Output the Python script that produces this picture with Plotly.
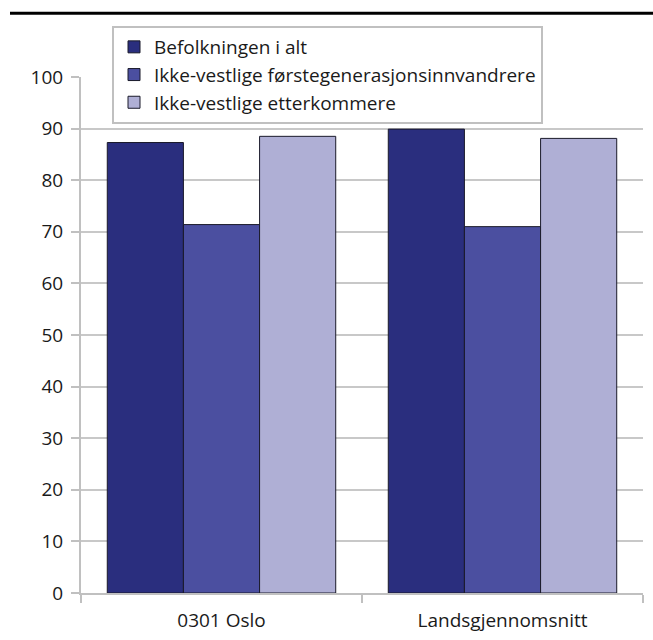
import plotly.graph_objects as go

categories = ["0301 Oslo", "Landsgjennomsnitt"]
series_names = [
    "Befolkningen i alt",
    "Ikke-vestlige førstegenerasjonsinnvandrere",
    "Ikke-vestlige etterkommere",
]
befolkningen = [87.3, 89.9]
forstegen = [71.4, 71.0]
etterkommere = [88.5, 88.1]
colors = ["#2a2e7e", "#4b4fa0", "#afafd5"]
y_ticks = [0, 10, 20, 30, 40, 50, 60, 70, 80, 90, 100]

FONT = "Open Sans"
W, H = 653, 640
ml, mr, mt, mb = 81, 10, 77, 47

fig = go.Figure()
for name, vals, col in zip(series_names, [befolkningen, forstegen, etterkommere], colors):
    fig.add_trace(go.Bar(
        x=categories, y=vals, name=name,
        marker=dict(color=col, line=dict(color="#1a1a2a", width=1)),
    ))

pw = W - ml - mr
ph = H - mt - mb

fig.update_layout(
    width=W, height=H,
    margin=dict(l=ml, r=mr, t=mt, b=mb, autoexpand=False),
    paper_bgcolor="white", plot_bgcolor="white",
    barmode="group", bargap=0.187, bargroupgap=0,
    font=dict(family=FONT, size=19, color="#1a1a1a"),
    showlegend=True,
    legend=dict(
        x=(112 - ml) / pw, y=1 + (mt - 26) / ph,
        xanchor="left", yanchor="top",
        bordercolor="#c0c0c0", borderwidth=2, bgcolor="white",
        font=dict(family=FONT, size=19, color="#1a1a1a"),
        itemclick=False,
    ),
    xaxis=dict(
        showline=True, linecolor="#c0c0c0", linewidth=2,
        ticks="outside", ticklen=8, tickcolor="#c0c0c0", tickwidth=2,
        tickson="boundaries", showgrid=False, automargin=False,
        ticklabelstandoff=9,
        tickfont=dict(family=FONT, size=19, color="#1a1a1a"),
    ),
    yaxis=dict(
        range=[0, 100], tickvals=y_ticks,
        showline=True, linecolor="#c0c0c0", linewidth=2,
        ticks="outside", ticklen=8, tickcolor="#c0c0c0", tickwidth=2,
        showgrid=True, gridcolor="#c8c8c8", gridwidth=2,
        zeroline=False, automargin=False,
        ticklabelstandoff=4,
        tickfont=dict(family=FONT, size=19, color="#1a1a1a"),
    ),
    shapes=[dict(
        type="line", xref="paper", yref="paper",
        x0=(10 - ml) / pw, x1=(W - ml) / pw,
        y0=1 + (mt - 13.3) / ph, y1=1 + (mt - 13.3) / ph,
        line=dict(color="black", width=3),
    )],
)

fig.write_html(
    "out.html",
    config={"responsive": False, "displayModeBar": False},
    post_script="document.body.style.margin='0';document.body.style.overflow='hidden';",
)
